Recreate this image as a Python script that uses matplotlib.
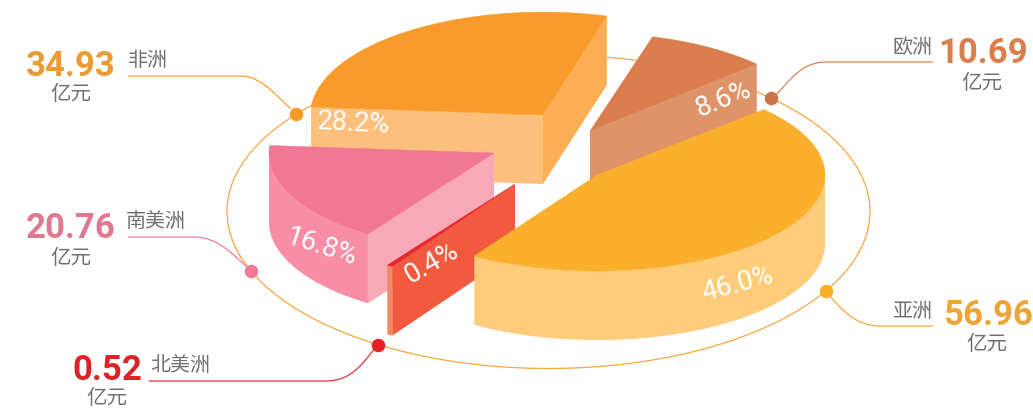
import numpy as np
import matplotlib
matplotlib.use('Agg')
import matplotlib.pyplot as plt
from matplotlib.path import Path
from matplotlib.patches import PathPatch, Ellipse

# revenue by region
regions = ['亚洲', '北美洲', '南美洲', '非洲', '欧洲']
amounts = [56.96, 0.52, 20.76, 34.93, 10.69]
amount_labels = ['56.96', '0.52', '20.76', '34.93', '10.69']
share_labels = ['46.0%', '0.4%', '16.8%', '28.2%', '8.6%']

CJK = ['Noto Sans CJK SC', 'DejaVu Sans']
NUM = ['Roboto', 'DejaVu Sans']

# pie shape, everything in pixels with y pointing down
RX, RY = 228, 98
DEPTH = 69
START = -43
RING = (548.5, 211.5, 321.5, 157)

styles = {
    '亚洲': dict(apex=(597, 175), sx=1.0, sy=0.98, top='#FBB02D', arc='#FECC7A', a='#FECC7A', b='#FECC7A',
               dot='#FBAE2C', num='#EFA536', line='#F9A83A', ring_at=30.3),
    '北美洲': dict(apex=(515, 184), sx=1.0, sy=1.0, top='#E8252B', arc='#F08A63', a='#F25A40', b='#F25A40',
                dot='#E8202A', num='#DC2328', line='#E0323C', ring_at=122),
    '南美洲': dict(apex=(494, 153), sx=0.987, sy=1.0, top='#F27794', arc='#F78EA6', a='#F8A9B8', b='#F8A9B8',
                dot='#EF7B98', num='#E0788F', line='#EF7F9C', ring_at=157.7),
    '非洲': dict(apex=(543, 115), sx=1.02, sy=1.05, top='#F99B2A', arc='#FDBF7C', a='#FDBF7C', b='#FCAE55',
               dot='#F89B27', num='#EB9A34', line='#F9A02F', ring_at=218.3),
    '欧洲': dict(apex=(590, 131), sx=1.0, sy=1.0, top='#D97E4C', arc='#DF9368', a='#DF9368', b='#DF9368',
               dot='#C9744A', num='#D87F4C', line='#D98553', ring_at=-46.2),
}

fig = plt.figure(figsize=(10.33, 4.08), dpi=100)
ax = fig.add_axes([0, 0, 1, 1])
ax.set_xlim(0, 1033)
ax.set_ylim(408, 0)
ax.axis('off')


def ring_xy(deg):
    t = np.radians(deg)
    return RING[0] + RING[2] * np.cos(t), RING[1] + RING[3] * np.sin(t)


def draw_wedge(name, t0, t1, z):
    st = styles[name]
    cx, cy = st['apex']
    rx, ry = RX * st['sx'], RY * st['sy']
    t = np.radians(np.linspace(t0, t1, 200))
    xs = cx + rx * np.cos(t)
    ys = cy + ry * np.sin(t)

    # outer wall, only the part turned towards the viewer
    front = np.sin(t) > 0
    if front.any():
        fx, fy = xs[front], ys[front]
        ax.fill(np.r_[fx, fx[::-1]], np.r_[fy, fy[::-1] + DEPTH], color=st['arc'], lw=0, zorder=z)

    # cut faces
    for key, ang, sign, px, py in (('a', t0, -1, xs[0], ys[0]), ('b', t1, 1, xs[-1], ys[-1])):
        if np.sin(np.radians(ang + sign * 90)) > 0:
            ax.fill([cx, px, px, cx], [cy, py, py + DEPTH, cy + DEPTH], color=st[key], lw=0, zorder=z + 0.1)

    ax.fill(np.r_[cx, xs], np.r_[cy, ys], color=st['top'], lw=0.3, zorder=z + 0.2)


# ring behind the pie
ax.add_patch(Ellipse(RING[:2], RING[2] * 2, RING[3] * 2, fill=False, ec='#F7A640', lw=0.9, zorder=1))

total = sum(amounts)
order = {'非洲': 2, '欧洲': 3, '南美洲': 4, '北美洲': 5, '亚洲': 6}
angle = START
for name, val in zip(regions, amounts):
    span = val / total * 360
    draw_wedge(name, angle, angle + span, order[name])
    angle += span

# leader lines: flat run, then a curve into the dot
leaders = {
    '非洲': [(128, 76), (240, 76), (262, 76), (276, 96), (291, 109)],
    '南美洲': [(128, 237), (194, 237), (218, 237), (232, 254), (247, 267)],
    '北美洲': [(149, 381), (325, 381), (352, 381), (362, 364), (376, 347)],
    '欧洲': [(933, 62), (826, 62), (802, 62), (790, 80), (776, 95)],
    '亚洲': [(933, 326), (880, 326), (856, 326), (842, 310), (829, 295)],
}
for name, pts in leaders.items():
    codes = [Path.MOVETO, Path.LINETO, Path.CURVE4, Path.CURVE4, Path.CURVE4]
    ax.add_patch(PathPatch(Path(pts, codes), fill=False, ec=styles[name]['line'], lw=0.9, zorder=9))

for name in regions:
    st = styles[name]
    x, y = ring_xy(st['ring_at'])
    ax.scatter([x], [y], s=95, color=st['dot'], lw=0, zorder=10)

# percentages lying on the side walls
share_pos = {'亚洲': (738, 284, 15), '北美洲': (432, 263, 30), '南美洲': (322, 247, -18),
             '非洲': (353, 123, -3), '欧洲': (723, 99, 22)}
for name, lab in zip(regions, share_labels):
    x, y, rot = share_pos[name]
    ax.text(x, y, lab, color='white', fontsize=19.5, fontweight='normal', family=NUM, rotation=rot,
            rotation_mode='anchor', ha='center', va='center', zorder=12)

# amount + name + unit blocks
blocks = {
    '非洲': dict(num=(26, 76), unit=(71, 94), tag=(128, 60), tag_ha='left'),
    '南美洲': dict(num=(26, 238), unit=(71, 258), tag=(126, 221), tag_ha='left'),
    '北美洲': dict(num=(72, 380), unit=(107, 397.5), tag=(150, 365), tag_ha='left'),
    '欧洲': dict(num=(938, 63), unit=(982, 83), tag=(932, 47), tag_ha='right'),
    '亚洲': dict(num=(943, 325), unit=(987, 344), tag=(932, 311), tag_ha='right'),
}
for name, lab in zip(regions, amount_labels):
    b = blocks[name]
    ax.text(*b['num'], lab, color=styles[name]['num'], fontsize=25, fontweight='bold', family=NUM,
            ha='left', va='baseline', zorder=12)
    ax.text(*b['unit'], '亿元', color='#6F7073', fontsize=14.8, family=CJK, ha='center', va='center', zorder=12)
    ax.text(*b['tag'], name, color='#6F7073', fontsize=14.4, family=CJK, ha=b['tag_ha'], va='center', zorder=12)

fig.savefig('out.png', dpi=100, facecolor='white')
